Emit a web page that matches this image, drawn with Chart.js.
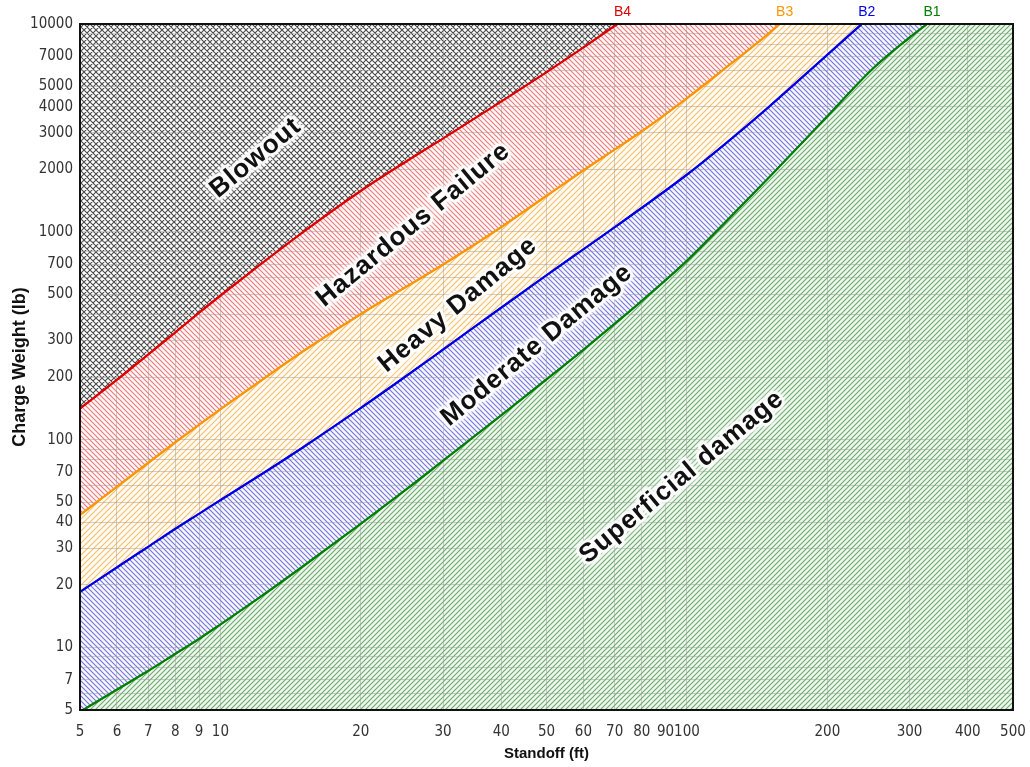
<!DOCTYPE html>
<html>
<head>
<meta charset="utf-8">
<script src="https://cdn.jsdelivr.net/npm/chart.js@4.4.1/dist/chart.umd.min.js"></script>
<style>
  body { margin: 0; background: #fff; }
  #damageChart { display: block; }
</style>
</head>
<body>
<canvas id="damageChart" width="1030" height="767"></canvas>
<script>
// damage curves: standoff (ft) vs charge weight (lb)
const b4Standoff = [5, 6, 7, 8, 9, 10, 12, 15, 20, 25, 30, 40, 50, 60, 70, 71];
const b4Weight   = [141, 194, 257, 328, 408, 493, 679, 993, 1574, 2178, 2812, 4236, 5861, 7709, 9795, 10000];

const b3Standoff = [5, 6, 7, 8, 9, 10, 12, 15, 20, 25, 30, 40, 50, 60, 70, 80, 100, 120, 150, 158];
const b3Weight   = [43.4, 59.3, 77.3, 97, 118, 140, 187, 265, 402, 543, 695, 1054, 1489, 1977, 2489, 3041, 4395, 6053, 9036, 10000];

const b2Standoff = [5, 6, 7, 8, 9, 10, 12, 15, 20, 25, 30, 40, 50, 60, 70, 80, 100, 120, 150, 200, 237];
const b2Weight   = [18.5, 24.3, 30.5, 37.2, 44, 51.2, 66.2, 91.6, 142, 202, 271, 432, 618, 824, 1052, 1303, 1884, 2618, 4000, 7112, 10000];

const b1Standoff = [5, 6, 7, 8, 9, 10, 12, 15, 20, 25, 30, 40, 50, 60, 70, 80, 100, 120, 150, 200, 250, 300, 327];
const b1Weight   = [4.9, 6.27, 7.71, 9.31, 11, 12.9, 17.1, 24.5, 39.4, 57.5, 79.1, 131, 195, 271, 361, 465, 726, 1094, 1828, 3597, 6081, 8600, 10000];

const standoffTicks = [5, 6, 7, 8, 9, 10, 20, 30, 40, 50, 60, 70, 80, 90, 100, 200, 300, 400, 500];
const weightTickLabels = [5, 7, 10, 20, 30, 40, 50, 70, 100, 200, 300, 500, 700, 1000, 2000, 3000, 4000, 5000, 7000, 10000];
const weightGrid = [5, 6, 7, 8, 9, 10, 20, 30, 40, 50, 60, 70, 80, 90, 100, 200, 300, 400, 500, 600, 700, 800, 900,
                    1000, 2000, 3000, 4000, 5000, 6000, 7000, 8000, 9000, 10000];

const curveNames = ['B4', 'B3', 'B2', 'B1'];
const zoneNames = ['Blowout', 'Hazardous Failure', 'Heavy Damage', 'Moderate Damage', 'Superficial damage'];

function toPoints(xs, ys) {
	return xs.map((x, i) => ({ x: x, y: ys[i] }));
}

// hatch tiles
function hatch(size, bg, color, width, dir) {
	const c = document.createElement('canvas');
	c.width = size; c.height = size;
	const g = c.getContext('2d');
	g.fillStyle = bg;
	g.fillRect(0, 0, size, size);
	g.strokeStyle = color;
	g.lineWidth = width;
	g.beginPath();
	if (dir === '/' || dir === 'x') {
		g.moveTo(-1, size + 1); g.lineTo(size + 1, -1);
		g.moveTo(-1, 1); g.lineTo(1, -1);
		g.moveTo(size - 1, size + 1); g.lineTo(size + 1, size - 1);
	}
	if (dir === '\\' || dir === 'x') {
		g.moveTo(-1, -1); g.lineTo(size + 1, size + 1);
		g.moveTo(size - 1, -1); g.lineTo(size + 1, 1);
		g.moveTo(-1, size - 1); g.lineTo(1, size + 1);
	}
	g.stroke();
	return g.createPattern(c, 'repeat');
}

const ctx = document.getElementById('damageChart').getContext('2d');
const blowoutFill = hatch(6, '#ffffff', '#4a4a4a', 1.1, 'x');
const hazardFill = hatch(5, '#fff7f7', '#ea7a7a', 1.1, '\\');
const heavyFill = hatch(6, '#fffbf2', '#f6c070', 1.1, '/');
const moderateFill = hatch(5, '#f7f7ff', '#7474da', 1.1, '\\');
const superficialFill = hatch(5, '#eef6ee', '#6aaa6a', 1.1, '/');

const gridOnTop = {
	id: 'gridOnTop',
	beforeDatasetsDraw(chart) {
		const a = chart.chartArea;
		const c = chart.ctx;
		c.save();
		c.fillStyle = superficialFill;
		c.fillRect(a.left, a.top, a.right - a.left, a.bottom - a.top);
		c.restore();
	},
	afterDatasetsDraw(chart) {
		const a = chart.chartArea;
		const c = chart.ctx;
		chart.scales.x.drawGrid(a);
		chart.scales.y.drawGrid(a);
		// lines back on top of the grid
		c.save();
		c.beginPath();
		c.rect(a.left, a.top, a.right - a.left, a.bottom - a.top);
		c.clip();
		chart.data.datasets.forEach((ds, i) => {
			chart.getDatasetMeta(i).dataset.draw(c, a);
		});
		c.restore();
	},
	afterDraw(chart) {
		const a = chart.chartArea;
		const c = chart.ctx;
		const xs = chart.scales.x, ys = chart.scales.y;
		c.save();
		c.strokeStyle = '#111';
		c.lineWidth = 2;
		c.strokeRect(a.left, a.top, a.right - a.left, a.bottom - a.top);

		// curve names at the top end of each line
		c.font = '14px "Liberation Sans", Arial, sans-serif';
		c.textAlign = 'center';
		c.textBaseline = 'middle';
		chart.data.datasets.forEach((ds, i) => {
			const pts = chart.getDatasetMeta(i).data;
			const last = pts[pts.length - 1];
			c.fillStyle = ds.borderColor;
			c.fillText(curveNames[i], last.x + 5, a.top - 12);
		});

		// zone names
		const spots = [[11.9, 2265], [25.9, 1080], [32.3, 445], [47.7, 285], [97.5, 66]];
		c.font = 'bold 26px "Liberation Sans", Arial, sans-serif';
		c.letterSpacing = '1px';
		zoneNames.forEach((name, i) => {
			const px = xs.getPixelForValue(spots[i][0]);
			const py = ys.getPixelForValue(spots[i][1]);
			c.save();
			c.translate(px, py);
			c.rotate(-39.5 * Math.PI / 180);
			c.lineJoin = 'round';
			c.shadowColor = 'rgba(255,255,255,0.9)';
			c.shadowBlur = 6;
			c.strokeStyle = 'rgba(255,255,255,0.85)';
			c.lineWidth = 6;
			c.strokeText(name, 0, 0);
			c.shadowBlur = 0;
			c.fillStyle = '#111';
			c.fillText(name, 0, 0);
			c.restore();
		});
		c.restore();
	}
};

const tickFont = { family: '"Liberation Sans Narrow", "DejaVu Sans Condensed", "Liberation Sans", sans-serif', size: 15 };

new Chart(ctx, {
	type: 'line',
	data: {
		datasets: [
			{
				label: 'B4',
				data: toPoints(b4Standoff, b4Weight),
				borderColor: '#e00000',
				backgroundColor: blowoutFill,
				fill: 'end'
			},
			{
				label: 'B3',
				data: toPoints(b3Standoff, b3Weight),
				borderColor: '#ff9500',
				backgroundColor: hazardFill,
				fill: 'end'
			},
			{
				label: 'B2',
				data: toPoints(b2Standoff, b2Weight),
				borderColor: '#0000e6',
				backgroundColor: heavyFill,
				fill: 'end'
			},
			{
				label: 'B1',
				data: toPoints(b1Standoff, b1Weight),
				borderColor: '#008000',
				backgroundColor: moderateFill,
				fill: 'end'
			}
		]
	},
	options: {
		responsive: false,
		animation: false,
		layout: { padding: { top: 24, right: 17, left: 6, bottom: 0 } },
		elements: {
			line: { borderWidth: 2, cubicInterpolationMode: 'monotone' },
			point: { radius: 0 }
		},
		plugins: {
			legend: { display: false },
			tooltip: { enabled: false }
		},
		scales: {
			x: {
				type: 'logarithmic',
				min: 5,
				max: 500,
				afterBuildTicks: scale => { scale.ticks = standoffTicks.map(v => ({ value: v })); },
				afterFit: scale => { scale.height = 57; scale.paddingRight = 0; scale.paddingLeft = 0; },
				grid: { color: 'rgba(150,150,150,0.45)', drawTicks: false },
				border: { display: false },
				ticks: {
					autoSkip: false,
					maxRotation: 0,
					padding: 13,
					color: '#333',
					font: tickFont,
					callback: v => String(v)
				},
				title: {
					display: true,
					text: 'Standoff (ft)',
					color: '#111',
					font: { family: '"Liberation Sans", Arial, sans-serif', size: 15, weight: 'bold' },
					padding: { top: 0, bottom: 4 }
				}
			},
			y: {
				type: 'logarithmic',
				min: 5,
				max: 10000,
				afterBuildTicks: scale => { scale.ticks = weightGrid.map(v => ({ value: v })); },
				afterFit: scale => { scale.width = 74; },
				grid: { color: 'rgba(150,150,150,0.45)', drawTicks: false },
				border: { display: false },
				ticks: {
					autoSkip: false,
					padding: 7,
					color: '#333',
					font: tickFont,
					callback: v => weightTickLabels.includes(v) ? String(v) : ''
				},
				title: {
					display: true,
					text: 'Charge Weight (lb)',
					color: '#111',
					font: { family: '"Liberation Sans", Arial, sans-serif', size: 18, weight: 'bold' },
					padding: { top: 3, bottom: 0 }
				}
			}
		}
	},
	plugins: [gridOnTop]
});
</script>
</body>
</html>
